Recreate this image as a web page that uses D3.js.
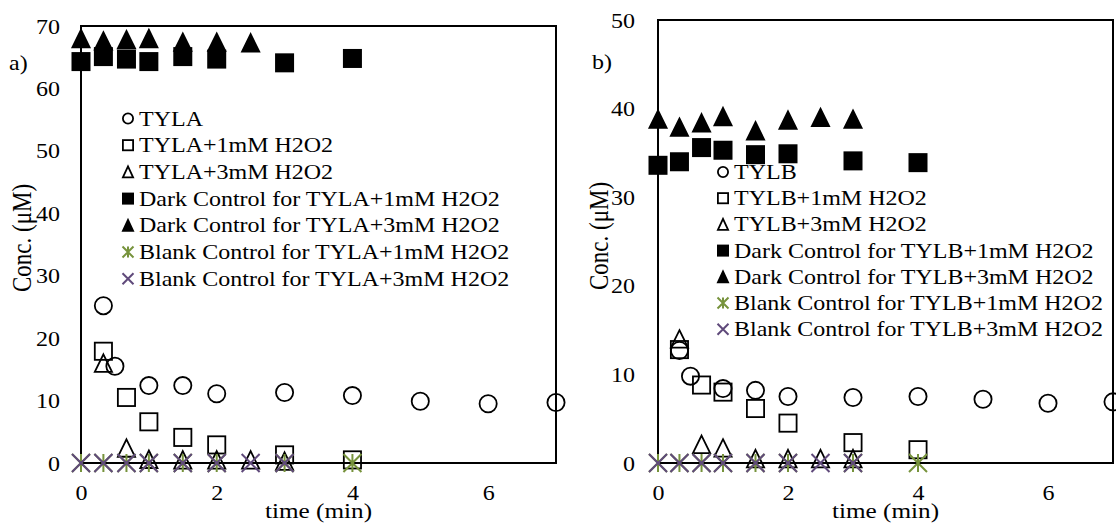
<!DOCTYPE html>
<html>
<head>
<meta charset="utf-8">
<script src="https://cdn.jsdelivr.net/npm/d3@7"></script>
<style>
  body { margin: 0; background: #fff; }
  svg { display: block; }
  text { font-family: "Liberation Serif", "Times New Roman", serif; fill: #000; }
</style>
</head>
<body>
<svg id="chart" width="1116" height="524"></svg>
<script>
// ---- tick labels ----
const xTicks = [0, 2, 4, 6];
const yTicksA = [0, 10, 20, 30, 40, 50, 60, 70];
const yTicksB = [0, 10, 20, 30, 40, 50];

// ---- panel a: TYLA ----
const namesA = ["TYLA", "TYLA+1mM H2O2", "TYLA+3mM H2O2",
  "Dark Control for TYLA+1mM H2O2", "Dark Control for TYLA+3mM H2O2",
  "Blank Control for TYLA+1mM H2O2", "Blank Control for TYLA+3mM H2O2"];
const tylaT = [0.33, 0.5, 1, 1.5, 2, 3, 4, 5, 6, 7];
const tylaV = [25.2, 15.5, 12.4, 12.4, 11.1, 11.3, 10.8, 9.9, 9.5, 9.7];
const tyla1T = [0.33, 0.67, 1, 1.5, 2, 3, 4];
const tyla1V = [17.9, 10.5, 6.6, 4.1, 2.9, 1.3, 0.5];
const tyla3T = [0.33, 0.67, 1, 1.5, 2, 2.5, 3];
const tyla3V = [16.0, 2.4, 0.6, 0.5, 0.5, 0.5, 0.3];
const darkA1T = [0, 0.33, 0.67, 1, 1.5, 2, 3, 4];
const darkA1V = [64.3, 65.1, 64.7, 64.3, 65.1, 64.7, 64.1, 64.8];
const darkA3T = [0, 0.33, 0.67, 1, 1.5, 2, 2.5];
const darkA3V = [68.0, 67.6, 67.8, 68.0, 67.4, 67.4, 67.3];
const blankA1T = [0, 0.33, 0.67, 1, 1.5, 2, 3, 4];
const blankA1V = [0, 0, 0, 0, 0, 0, 0, 0];
const blankA3T = [0, 0.33, 0.67, 1, 1.5, 2, 2.5, 3];
const blankA3V = [0, 0, 0, 0, 0, 0, 0, 0];

// ---- panel b: TYLB ----
const namesB = ["TYLB", "TYLB+1mM H2O2", "TYLB+3mM H2O2",
  "Dark Control for TYLB+1mM H2O2", "Dark Control for TYLB+3mM H2O2",
  "Blank Control for TYLB+1mM H2O2", "Blank Control for TYLB+3mM H2O2"];
const tylbT = [0.33, 0.5, 1, 1.5, 2, 3, 4, 5, 6, 7];
const tylbV = [12.7, 9.8, 8.4, 8.2, 7.5, 7.4, 7.5, 7.2, 6.75, 6.9];
const tylb1T = [0.33, 0.67, 1, 1.5, 2, 3, 4];
const tylb1V = [12.8, 8.8, 8.0, 6.15, 4.5, 2.3, 1.5];
const tylb3T = [0.33, 0.67, 1, 1.5, 2, 2.5, 3];
const tylb3V = [14.0, 2.1, 1.7, 0.5, 0.5, 0.5, 0.5];
const darkB1T = [0, 0.33, 0.67, 1, 1.5, 2, 3, 4];
const darkB1V = [33.6, 34.0, 35.6, 35.3, 34.8, 34.9, 34.1, 33.9];
const darkB3T = [0, 0.33, 0.67, 1, 1.5, 2, 2.5, 3];
const darkB3V = [38.8, 37.9, 38.4, 39.1, 37.5, 38.7, 39.0, 38.8];
const blankB1T = [0, 0.33, 0.67, 1, 1.5, 2, 3, 4];
const blankB1V = [0, 0, 0, 0, 0, 0, 0, 0];
const blankB3T = [0, 0.33, 0.67, 1, 1.5, 2, 2.5, 3];
const blankB3V = [0, 0, 0, 0, 0, 0, 0, 0];

// marker style per series position
const shapes = ["circle", "square", "triangle", "squareFill", "triangleFill", "asterisk", "cross"];
const GREEN = "#77933C", PURPLE = "#604A7B";
const SX = 1.2;               // horizontal stretch of all lettering
const FONT = 20;

const svg = d3.select("#chart");

function drawMarker(g, shape, s) {
  const h = s / 2;
  if (shape === "circle") {
    g.append("circle").attr("r", h - 0.9).attr("fill", "none").attr("stroke", "#000").attr("stroke-width", 1.8);
  } else if (shape === "square" || shape === "squareFill") {
    const fill = shape === "squareFill";
    g.append("rect").attr("x", -h + 0.9).attr("y", -h + 0.9).attr("width", s - 1.8).attr("height", s - 1.8)
      .attr("fill", fill ? "#000" : "none").attr("stroke", "#000").attr("stroke-width", 1.8);
  } else if (shape === "triangle" || shape === "triangleFill") {
    const fill = shape === "triangleFill";
    const th = s * 0.92 / 2;
    g.append("path").attr("d", `M0,${-th}L${h - 0.9},${th}L${-h + 0.9},${th}Z`)
      .attr("fill", fill ? "#000" : "none").attr("stroke", "#000").attr("stroke-width", 1.8)
      .attr("stroke-linejoin", "miter");
  } else if (shape === "cross" || shape === "asterisk") {
    const col = shape === "cross" ? PURPLE : GREEN;
    const d = h - 0.5;
    g.append("path").attr("d", `M${-d},${-d}L${d},${d}M${-d},${d}L${d},${-d}` + (shape === "asterisk" ? `M0,${-d}L0,${d}` : ""))
      .attr("stroke", col).attr("stroke-width", 2).attr("fill", "none");
  }
}

function stretchedText(parent, x, y, str, opts = {}) {
  const g = parent.append("g").attr("transform", `translate(${x},${y}) scale(${SX},1)` + (opts.rotate ? ` rotate(${opts.rotate})` : ""));
  return g.append("text").attr("text-anchor", opts.anchor || "start")
    .attr("dy", "0.35em").attr("font-size", opts.size || FONT).text(str);
}

function drawPanel(cfg) {
  const x = d3.scaleLinear().domain([0, 7]).range([cfg.left, cfg.right]);
  const y = d3.scaleLinear().domain([0, cfg.yMax]).range([cfg.bottom, cfg.top]);
  const g = svg.append("g");

  // axes (labels only; frame drawn below)
  const ax = g.append("g").attr("transform", `translate(0,${cfg.bottom})`)
    .call(d3.axisBottom(x).tickValues(xTicks).tickSize(0).tickFormat(d3.format("d")));
  ax.select(".domain").remove();
  ax.selectAll(".tick text").attr("font-family", null).attr("font-size", FONT)
    .attr("x", 0).attr("y", 30).attr("dy", "0.35em").attr("transform", `scale(${SX},1)`);

  const ay = g.append("g").attr("transform", `translate(${cfg.left},0)`)
    .call(d3.axisLeft(y).tickValues(cfg.yTicks).tickSize(0).tickFormat(d3.format("d")));
  ay.select(".domain").remove();
  ay.selectAll(".tick text").attr("font-family", null).attr("font-size", FONT)
    .attr("x", -cfg.labelGap / SX).attr("dy", "0.35em").attr("transform", `scale(${SX},1)`);

  // plot frame
  g.append("rect").attr("x", cfg.left).attr("y", cfg.top)
    .attr("width", cfg.right - cfg.left).attr("height", cfg.bottom - cfg.top)
    .attr("fill", "none").attr("stroke", "#000").attr("stroke-width", 2);

  // titles
  stretchedText(g, (cfg.left + cfg.right) / 2, cfg.bottom + 48, "time (min)", { anchor: "middle", size: 21 });
  stretchedText(g, cfg.yTitleX, cfg.yTitleY, "Conc. (\u03bcM)", { anchor: "middle", size: 23, rotate: -90 });
  stretchedText(g, cfg.tagX, cfg.tagY, cfg.tag, { anchor: "start" });

  // legend
  cfg.names.forEach((name, i) => {
    const ly = cfg.legY + i * cfg.legStep;
    const mg = g.append("g").attr("transform", `translate(${cfg.legX},${ly})`);
    drawMarker(mg, shapes[i], 12);
    stretchedText(g, cfg.legX + 11, ly, name, { size: FONT });
  });

  // points
  cfg.series.forEach((s, i) => {
    s.t.forEach((t, j) => {
      const mg = g.append("g").attr("transform", `translate(${x(t)},${y(s.v[j])})`);
      drawMarker(mg, shapes[i], 19);
    });
  });
}

drawPanel({
  left: 81, right: 556, top: 26, bottom: 463, yMax: 70, yTicks: yTicksA, labelGap: 21,
  names: namesA, legX: 128, legY: 118.5, legStep: 26.7,
  yTitleX: 21, yTitleY: 238, tag: "a)", tagX: 9, tagY: 63,
  series: [
    { t: tylaT, v: tylaV }, { t: tyla1T, v: tyla1V }, { t: tyla3T, v: tyla3V },
    { t: darkA1T, v: darkA1V }, { t: darkA3T, v: darkA3V },
    { t: blankA1T, v: blankA1V }, { t: blankA3T, v: blankA3V }
  ]
});

drawPanel({
  left: 658, right: 1113, top: 20, bottom: 463, yMax: 50, yTicks: yTicksB, labelGap: 23,
  names: namesB, legX: 723, legY: 172, legStep: 26.2,
  yTitleX: 598, yTitleY: 236, tag: "b)", tagX: 592, tagY: 62,
  series: [
    { t: tylbT, v: tylbV }, { t: tylb1T, v: tylb1V }, { t: tylb3T, v: tylb3V },
    { t: darkB1T, v: darkB1V }, { t: darkB3T, v: darkB3V },
    { t: blankB1T, v: blankB1V }, { t: blankB3T, v: blankB3V }
  ]
});
</script>
</body>
</html>
